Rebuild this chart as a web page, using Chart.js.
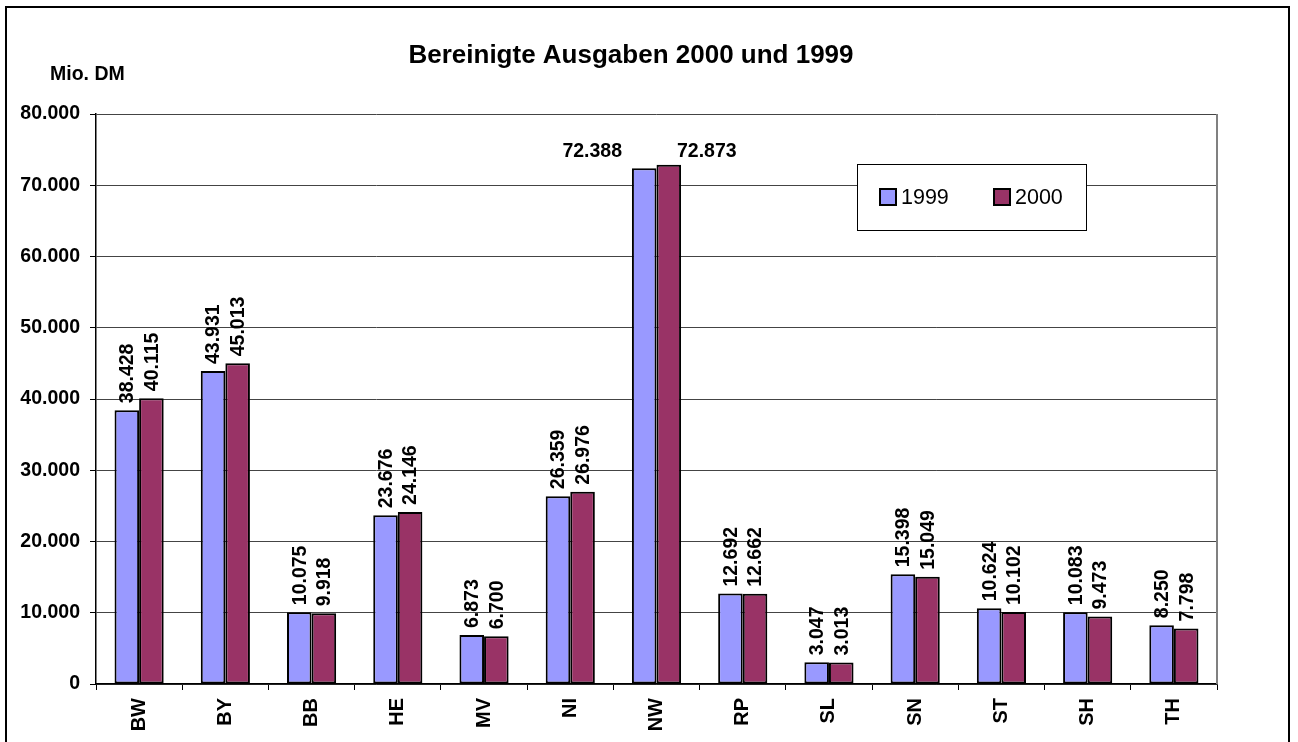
<!DOCTYPE html>
<html lang="de">
<head>
  <meta charset="UTF-8">
  <title>Bereinigte Ausgaben 2000 und 1999</title>
  <script src="https://cdn.jsdelivr.net/npm/chart.js"></script>
  <style>
    body {
      margin: 0;
      background: #ffffff;
    }
    canvas {
      display: block;
    }
  </style>
</head>
<body>

<canvas id="ausgabenChart" width="1298" height="742"></canvas>

<script>
  // Bundesländer
  const laender = ['BW', 'BY', 'BB', 'HE', 'MV', 'NI', 'NW', 'RP', 'SL', 'SN', 'ST', 'SH', 'TH'];
  // Bereinigte Ausgaben in Mio. DM
  const ausgaben1999 = [38428, 43931, 10075, 23676, 6873, 26359, 72388, 12692, 3047, 15398, 10624, 10083, 8250];
  const ausgaben2000 = [40115, 45013, 9918, 24146, 6700, 26976, 72873, 12662, 3013, 15049, 10102, 9473, 7798];
  const yTicks = [0, 10000, 20000, 30000, 40000, 50000, 60000, 70000, 80000];

  const FONT = '"Liberation Sans", Arial, sans-serif';

  // 38428 -> "38.428"
  const fmt = v => String(v).replace(/\B(?=(\d{3})+(?!\d))/g, '.');

  // Werte über den Säulen (NW waagerecht und seitlich versetzt, wie im Original)
  const valueLabels = {
    id: 'valueLabels',
    afterDatasetsDraw(chart) {
      const ctx = chart.ctx;
      ctx.save();
      ctx.fillStyle = '#000';
      ctx.font = 'bold 19.5px ' + FONT;
      chart.data.datasets.forEach((ds, di) => {
        const meta = chart.getDatasetMeta(di);
        meta.data.forEach((bar, i) => {
          const txt = fmt(ds.data[i]);
          if (laender[i] === 'NW') {
            const dx = di === 0 ? -52 : 38;
            ctx.textAlign = 'center';
            ctx.textBaseline = 'alphabetic';
            ctx.fillText(txt, bar.x + dx, 157);
          } else {
            ctx.save();
            ctx.translate(bar.x + 1, bar.y - 7);
            ctx.rotate(-Math.PI / 2);
            ctx.textAlign = 'left';
            ctx.textBaseline = 'middle';
            ctx.fillText(txt, 0, 0);
            ctx.restore();
          }
        });
      });
      ctx.restore();
    }
  };

  // Rahmen, Titel, Einheit, rechte Plotkante und Legende
  const decor = {
    id: 'decor',
    beforeDatasetsDraw(chart) {
      const { ctx, chartArea } = chart;
      ctx.save();
      ctx.strokeStyle = '#808080';
      ctx.lineWidth = 2;
      ctx.beginPath();
      ctx.moveTo(chartArea.right, chartArea.top);
      ctx.lineTo(chartArea.right, chartArea.bottom);
      ctx.stroke();
      ctx.restore();
    },
    afterDraw(chart) {
      const ctx = chart.ctx;
      ctx.save();
      // äußerer Rahmen
      ctx.strokeStyle = '#000';
      ctx.lineWidth = 2;
      ctx.strokeRect(6, 7, 1283, 800);

      // Titel
      ctx.fillStyle = '#000';
      ctx.textAlign = 'center';
      ctx.textBaseline = 'alphabetic';
      ctx.font = 'bold 26px ' + FONT;
      ctx.fillText('Bereinigte Ausgaben 2000 und 1999', 631, 63);

      // Einheit
      ctx.textAlign = 'left';
      ctx.font = 'bold 19.5px ' + FONT;
      ctx.fillText('Mio. DM', 50, 80);

      // Legende
      ctx.fillStyle = '#fff';
      ctx.fillRect(857, 164, 229, 66);
      ctx.strokeStyle = '#000';
      ctx.lineWidth = 1;
      ctx.strokeRect(857.5, 164.5, 229, 66);
      ctx.font = '21.5px ' + FONT;
      ctx.textBaseline = 'middle';
      const xs = [880, 994];
      chart.data.datasets.forEach((ds, i) => {
        ctx.fillStyle = ds.backgroundColor;
        ctx.fillRect(xs[i], 189, 16, 16);
        ctx.lineWidth = 2;
        ctx.strokeRect(xs[i], 189, 16, 16);
        ctx.fillStyle = '#000';
        ctx.fillText(ds.label, xs[i] + 21, 198);
      });
      ctx.restore();
    }
  };

  new Chart(document.getElementById('ausgabenChart'), {
    type: 'bar',
    data: {
      labels: laender,
      datasets: [
        {
          label: '1999',
          data: ausgaben1999,
          backgroundColor: '#9999FF',
          borderColor: '#000',
          borderWidth: 2,
          borderSkipped: false
        },
        {
          label: '2000',
          data: ausgaben2000,
          backgroundColor: '#993366',
          borderColor: '#000',
          borderWidth: 2,
          borderSkipped: false
        }
      ]
    },
    options: {
      responsive: false,
      animation: false,
      layout: { padding: { top: 114, right: 81, left: 0, bottom: 0 } },
      datasets: {
        bar: { barPercentage: 1, categoryPercentage: 0.57 }
      },
      plugins: {
        legend: { display: false },
        title: { display: false },
        tooltip: { enabled: false }
      },
      scales: {
        x: {
          afterFit: s => { s.height = 58; },
          grid: { drawOnChartArea: false, drawTicks: true, tickLength: 6, color: '#000' },
          border: { color: '#000', width: 1.5 },
          ticks: {
            minRotation: 90,
            maxRotation: 90,
            padding: 8,
            color: '#000',
            font: { family: FONT, size: 20, weight: 'bold' }
          }
        },
        y: {
          min: 0,
          max: 80000,
          afterFit: s => { s.width = 96; },
          afterBuildTicks: s => { s.ticks = yTicks.map(v => ({ value: v })); },
          grid: { color: '#444', tickLength: 6, tickColor: '#000' },
          border: { color: '#000', width: 1.5 },
          ticks: {
            padding: 10,
            color: '#000',
            font: { family: FONT, size: 19.5, weight: 'bold' },
            callback: v => fmt(v)
          }
        }
      }
    },
    plugins: [valueLabels, decor]
  });
</script>

</body>
</html>
